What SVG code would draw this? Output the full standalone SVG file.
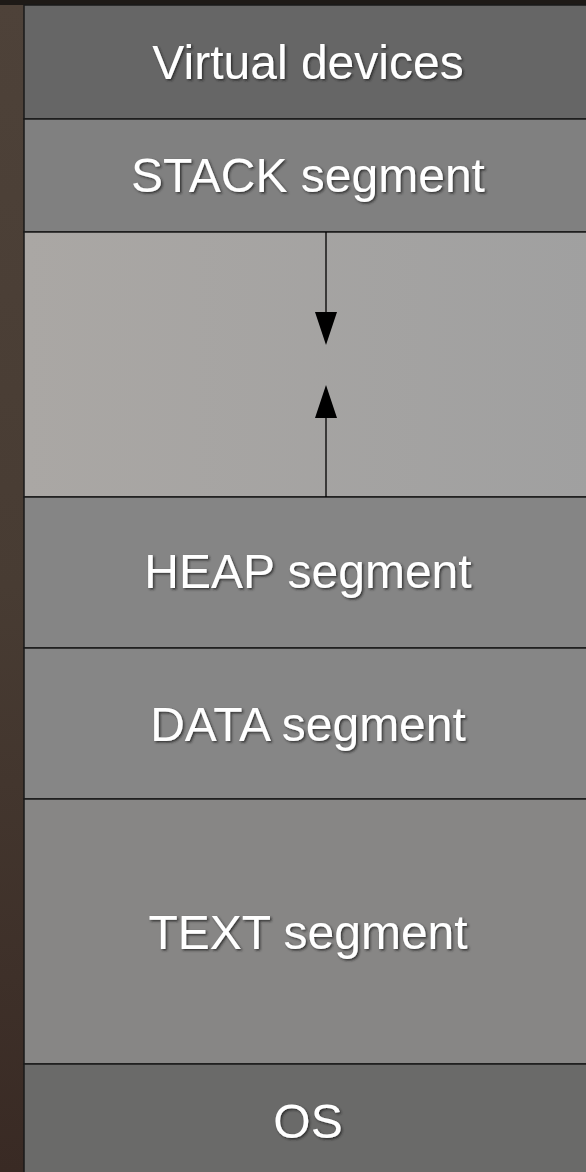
<svg xmlns="http://www.w3.org/2000/svg" width="586" height="1172" viewBox="0 0 586 1172">
<defs>
<linearGradient id="bg" x1="0" y1="0" x2="0" y2="1">
<stop offset="0" stop-color="#4e4239"/>
<stop offset="0.5" stop-color="#483c33"/>
<stop offset="1" stop-color="#392a24"/>
</linearGradient>
<linearGradient id="gap" x1="0" y1="0" x2="1" y2="0">
<stop offset="0" stop-color="#aaa7a4"/>
<stop offset="1" stop-color="#a0a0a0"/>
</linearGradient>
<filter id="sh" x="-5%" y="-20%" width="110%" height="140%">
<feDropShadow dx="1.5" dy="1.5" stdDeviation="0.8" flood-color="#222" flood-opacity="0.8"/>
</filter>
<marker id="ah" viewBox="0 0 22 33" refX="22" refY="11" markerWidth="33" markerHeight="22" markerUnits="userSpaceOnUse" orient="auto">
<path d="M0,0 L33,11 L0,22 Z" fill="#000"/>
</marker>
</defs>
<style>
.seg{stroke:#1a1a1a;stroke-width:1.5}
.lbl{font-family:"Liberation Sans",Arial,sans-serif;font-size:48px;fill:#fff;text-anchor:middle;filter:url(#sh)}
.conn{stroke:#000;stroke-width:1.3;fill:none}
</style>
<rect x="0" y="0" width="586" height="1172" fill="url(#bg)"/>
<rect x="0" y="0" width="586" height="5" fill="#1e1a17"/>
<g id="virtual-devices">
<rect class="seg" x="24" y="5" width="570" height="114" fill="#666666"/>
<text class="lbl" x="308" y="79">Virtual devices</text>
</g>
<g id="stack">
<rect class="seg" x="24" y="119" width="570" height="113" fill="#808080"/>
<text class="lbl" x="308" y="192">STACK segment</text>
</g>
<g id="free">
<rect class="seg" x="24" y="232" width="570" height="265" fill="url(#gap)"/>
</g>
<g id="heap">
<rect class="seg" x="24" y="497" width="570" height="151" fill="#858585"/>
<text class="lbl" x="308" y="588">HEAP segment</text>
</g>
<g id="data">
<rect class="seg" x="24" y="648" width="570" height="151" fill="#868686"/>
<text class="lbl" x="308" y="741">DATA segment</text>
</g>
<g id="text">
<rect class="seg" x="24" y="799" width="570" height="265" fill="#878685"/>
<text class="lbl" x="308" y="949">TEXT segment</text>
</g>
<g id="os">
<rect class="seg" x="24" y="1064" width="570" height="120" fill="#6a6a69"/>
<text class="lbl" x="308" y="1138">OS</text>
</g>
<g id="connectors">
<path d="M0,0 M326,232 L326,312" class="conn"/>
<polygon points="315,312 337,312 326,345" fill="#000"/>
<path d="M326,497 L326,418" class="conn"/>
<polygon points="315,418 337,418 326,385" fill="#000"/>
</g>
</svg>
